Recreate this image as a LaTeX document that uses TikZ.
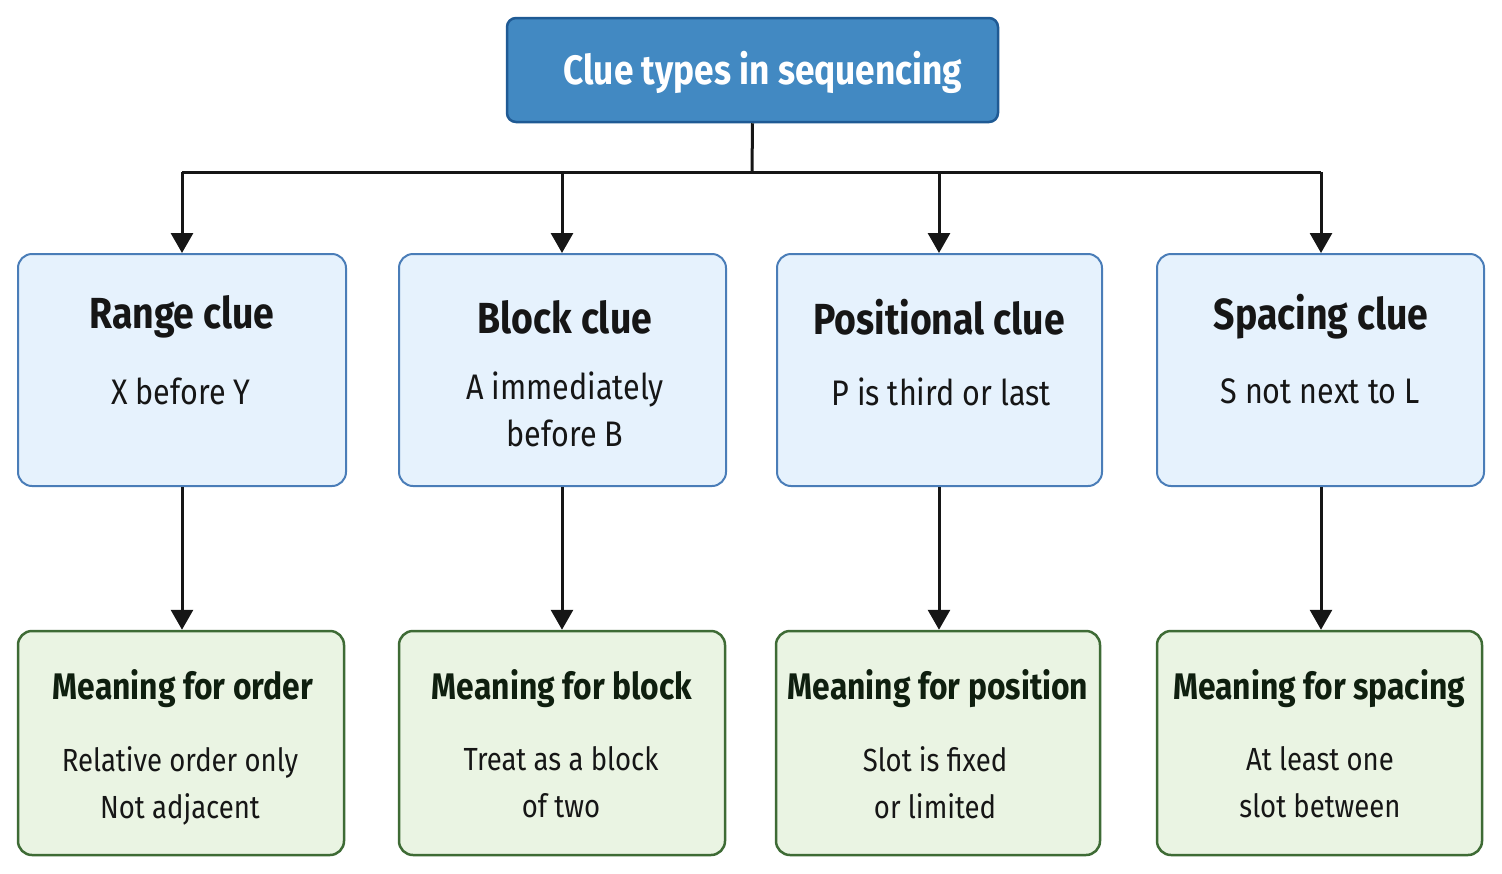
\documentclass[tikz,border=0pt]{standalone}
\usepackage{fontspec}
\setmainfont{Fira Sans}[FakeStretch=0.86]
\usetikzlibrary{arrows.meta}
\definecolor{topfill}{HTML}{4289C2}
\definecolor{topdraw}{HTML}{1F5A94}
\definecolor{midfill}{HTML}{E6F2FD}
\definecolor{middraw}{HTML}{4A7DB8}
\definecolor{botfill}{HTML}{EAF4E3}
\definecolor{botdraw}{HTML}{3E6B35}
\definecolor{ink}{HTML}{161616}
\definecolor{greenink}{HTML}{0F1F0F}
\tikzset{
  x=1pt, y=-1pt,
  topbox/.style={draw=topdraw, fill=topfill, line width=2.5pt, rounded corners=9pt, minimum width=491pt, minimum height=104pt, inner sep=0pt},
  midbox/.style={draw=middraw, fill=midfill, line width=2pt, rounded corners=14pt, minimum height=232pt, inner sep=0pt},
  botbox/.style={draw=botdraw, fill=botfill, line width=2.5pt, rounded corners=14pt, minimum height=224pt, inner sep=0pt},
  toptext/.style={text=white, font=\fontsize{41}{46}\selectfont\bfseries},
  head/.style={text=ink, font=\fontsize{43.5}{48}\selectfont\bfseries},
  bhead/.style={text=greenink, font=\fontsize{37}{44}\selectfont\bfseries},
  body/.style={text=ink, align=center, font=\fontsize{35.5}{47}\selectfont, anchor=north, inner sep=0pt},
  bbody/.style={text=ink, align=center, font=\fontsize{32}{47}\selectfont, anchor=north, inner sep=0pt},
  conn/.style={line width=3pt, draw=ink},
  arr/.style={conn, -{Triangle[length=20pt,width=22pt]}},
}
\begin{document}
\begin{tikzpicture}
\useasboundingbox (0,0) rectangle (1502,873);
% top
\node[topbox] (top) at (752.5,70) {};
\node[toptext] (toplabel) at (763,72) {Clue types in sequencing};
% middle row
\node[midbox, minimum width=328pt] (m1) at (182,370) {};
\node[midbox, minimum width=327pt] (m2) at (562.5,370) {};
\node[midbox, minimum width=325pt] (m3) at (939.5,370) {};
\node[midbox, minimum width=327pt] (m4) at (1320.5,370) {};
\node[head] (h1) at (182,317) {Range clue};
\node[head] (h2) at (565,317) {Block clue};
\node[head] (h3) at (939,317) {Positional clue};
\node[head] (h4) at (1321,317) {Spacing clue};
\node[body] (b1) at (181,378) {X before Y};
\node[body] (b2) at (565,372) {A immediately\\before B};
\node[body] (b3) at (941,378) {P is third or last};
\node[body] (b4) at (1320,378) {S not next to L};
% bottom row
\node[botbox, minimum width=326pt] (g1) at (181,743) {};
\node[botbox, minimum width=326pt] (g2) at (562,743) {};
\node[botbox, minimum width=324pt] (g3) at (938,743) {};
\node[botbox, minimum width=325pt] (g4) at (1319.5,743) {};
\node[bhead] (k1) at (183,689) {Meaning for order};
\node[bhead] (k2) at (562,689) {Meaning for block};
\node[bhead] (k3) at (938,689) {Meaning for position};
\node[bhead] (k4) at (1319,689) {Meaning for spacing};
\node[bbody] (t1) at (180,746.5) {Relative order only\\Not adjacent};
\node[bbody] (t2) at (561,746.5) {Treat as a block\\of two};
\node[bbody] (t3) at (935,746.5) {Slot is fixed\\or limited};
\node[bbody] (t4) at (1320,746.5) {At least one\\slot between};
% connectors
\coordinate (bus) at (752,172);
\draw[conn] (top.south) -- (bus);
\draw[conn] (182,172) -- (1321,172);
\draw[arr] (182,172) -- (m1.north);
\draw[arr] (562,172) -- (m2.north -| 562,0);
\draw[arr] (939,172) -- (m3.north -| 939,0);
\draw[arr] (1321,172) -- (m4.north -| 1321,0);
\draw[arr] (m1.south) -- (g1.north -| m1.south);
\draw[arr] (m2.south -| 562,0) -- (g2.north);
\draw[arr] (m3.south -| 939,0) -- (g3.north -| 939,0);
\draw[arr] (m4.south -| 1321,0) -- (g4.north -| 1321,0);
\end{tikzpicture}
\end{document}
